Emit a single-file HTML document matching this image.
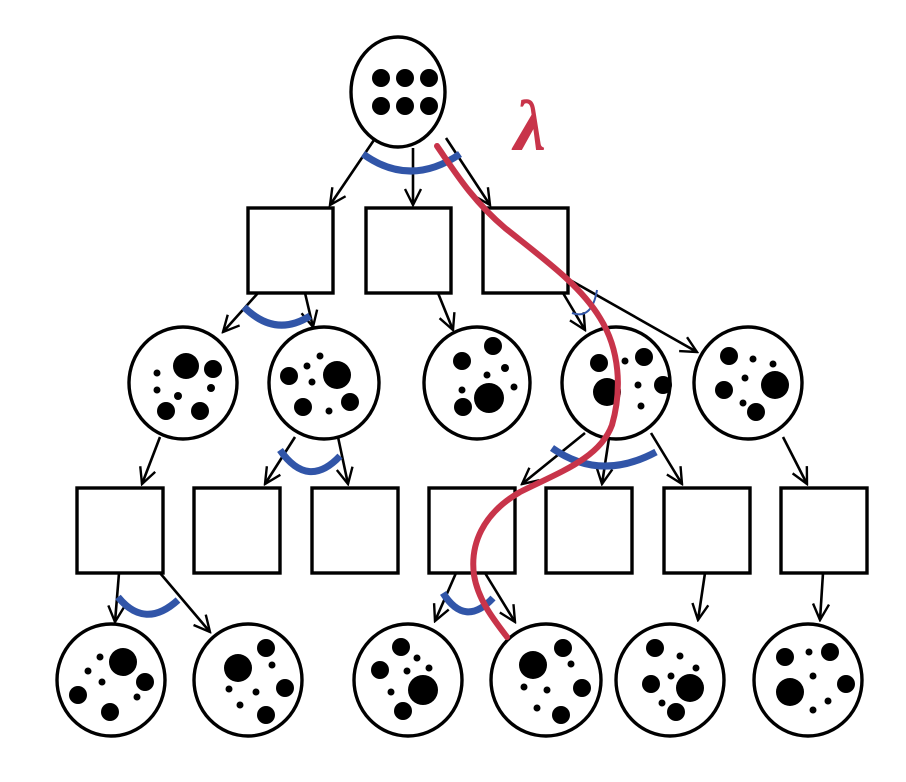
<!DOCTYPE html>
<html><head><meta charset="utf-8"><style>html,body{margin:0;padding:0;background:#fff}svg{display:block}</style></head>
<body>
<svg width="906" height="782" viewBox="0 0 906 782" xmlns="http://www.w3.org/2000/svg">
<defs>
<marker id="b" viewBox="0 0 20 20" refX="18" refY="10" markerWidth="20" markerHeight="20" markerUnits="userSpaceOnUse" orient="auto">
<path d="M2,2 L18,10 L2,18" fill="none" stroke="#000" stroke-width="2.4"/>
</marker>
</defs>
<g fill="none" stroke="#000" stroke-width="3.4">
<rect x="248" y="208" width="85" height="85"/>
<rect x="366" y="208" width="85" height="85"/>
<rect x="483" y="208" width="85" height="85"/>
<rect x="77" y="488" width="86" height="85"/>
<rect x="194" y="488" width="86" height="85"/>
<rect x="312" y="488" width="86" height="85"/>
<rect x="429" y="488" width="86" height="85"/>
<rect x="546" y="488" width="86" height="85"/>
<rect x="664" y="488" width="86" height="85"/>
<rect x="781" y="488" width="86" height="85"/>
<ellipse cx="398" cy="92" rx="47" ry="55"/>
<ellipse cx="183" cy="383" rx="54" ry="56"/>
<ellipse cx="324" cy="383" rx="55" ry="56"/>
<ellipse cx="477" cy="383" rx="53" ry="56"/>
<ellipse cx="616" cy="383" rx="54" ry="56"/>
<ellipse cx="748" cy="383" rx="54" ry="56"/>
<ellipse cx="111" cy="680" rx="54" ry="56"/>
<ellipse cx="248" cy="680" rx="54" ry="56"/>
<ellipse cx="408" cy="680" rx="54" ry="56"/>
<ellipse cx="546" cy="680" rx="55" ry="56"/>
<ellipse cx="670" cy="680" rx="54" ry="56"/>
<ellipse cx="808" cy="680" rx="54" ry="56"/>
</g>
<g stroke="#000" stroke-width="2.6" fill="none" marker-end="url(#b)">
<line x1="374" y1="140" x2="330" y2="205"/>
<line x1="413" y1="148" x2="413" y2="205"/>
<line x1="446" y1="138" x2="490" y2="205"/>
<line x1="258" y1="293" x2="223" y2="332"/>
<line x1="305" y1="293" x2="313" y2="327"/>
<line x1="438" y1="293" x2="453" y2="330"/>
<line x1="563" y1="293" x2="585" y2="330"/>
<line x1="570" y1="280" x2="697" y2="352"/>
<line x1="160" y1="437" x2="142" y2="484"/>
<line x1="295" y1="437" x2="265" y2="484"/>
<line x1="338" y1="437" x2="348" y2="484"/>
<line x1="585" y1="433" x2="522" y2="484"/>
<line x1="609" y1="438" x2="602" y2="484"/>
<line x1="651" y1="433" x2="682" y2="484"/>
<line x1="783" y1="437" x2="807" y2="484"/>
<line x1="119" y1="573" x2="115" y2="622"/>
<line x1="160" y1="573" x2="210" y2="632"/>
<line x1="456" y1="573" x2="435" y2="621"/>
<line x1="485" y1="573" x2="515" y2="622"/>
<line x1="705" y1="573" x2="698" y2="620"/>
<line x1="823" y1="573" x2="820" y2="620"/>
</g>
<g fill="none" stroke="#3155a8" stroke-width="7">
<path d="M363,154 Q410,188 460,154"/>
<path d="M244,307 Q275,338 310,316"/>
<path d="M280,450 Q308,490 340,456"/>
<path d="M552,448 Q600,482 656,452"/>
<path d="M118,597 Q145,630 178,600"/>
<path d="M443,593 Q465,628 493,598"/>
</g>
<path d="M572,313 Q592,320 597,290" fill="none" stroke="#3155a8" stroke-width="2"/>
<g fill="#000">
<circle cx="381" cy="78" r="9"/><circle cx="405" cy="78" r="9"/><circle cx="429" cy="78" r="9"/>
<circle cx="381" cy="106" r="9"/><circle cx="405" cy="106" r="9"/><circle cx="429" cy="106" r="9"/>
<circle cx="186" cy="366" r="13"/><circle cx="213" cy="369" r="9"/><circle cx="157" cy="373" r="3.5"/><circle cx="157" cy="390" r="3.5"/><circle cx="178" cy="396" r="4"/><circle cx="211" cy="388" r="4"/><circle cx="166" cy="411" r="9"/><circle cx="200" cy="411" r="9"/>
<circle cx="337" cy="375" r="14"/><circle cx="289" cy="376" r="9"/><circle cx="320" cy="356" r="3.5"/><circle cx="307" cy="366" r="3.5"/><circle cx="312" cy="382" r="3.5"/><circle cx="303" cy="407" r="9"/><circle cx="350" cy="402" r="9"/><circle cx="329" cy="411" r="3.5"/>
<circle cx="493" cy="346" r="9"/><circle cx="462" cy="361" r="9"/><circle cx="505" cy="368" r="4"/><circle cx="487" cy="375" r="3.5"/><circle cx="462" cy="390" r="3.5"/><circle cx="514" cy="387" r="3.5"/><circle cx="489" cy="398" r="15"/><circle cx="463" cy="407" r="9"/>
<circle cx="599" cy="363" r="9"/><circle cx="625" cy="361" r="3.5"/><circle cx="644" cy="357" r="9"/><circle cx="607" cy="392" r="14"/><circle cx="638" cy="385" r="3.5"/><circle cx="663" cy="385" r="9"/><circle cx="641" cy="406" r="3.5"/>
<circle cx="729" cy="356" r="9"/><circle cx="753" cy="359" r="3.5"/><circle cx="773" cy="364" r="3.5"/><circle cx="745" cy="378" r="3.5"/><circle cx="724" cy="390" r="9"/><circle cx="775" cy="385" r="14"/><circle cx="743" cy="403" r="3.5"/><circle cx="756" cy="412" r="9"/>
<circle cx="123" cy="662" r="14"/><circle cx="100" cy="657" r="3.5"/><circle cx="88" cy="671" r="3.5"/><circle cx="102" cy="682" r="3.5"/><circle cx="145" cy="682" r="9"/><circle cx="137" cy="697" r="3.5"/><circle cx="78" cy="695" r="9"/><circle cx="110" cy="712" r="9"/>
<circle cx="266" cy="648" r="9"/><circle cx="238" cy="668" r="14"/><circle cx="272" cy="665" r="3.5"/><circle cx="285" cy="688" r="9"/><circle cx="229" cy="689" r="3.5"/><circle cx="256" cy="692" r="3.5"/><circle cx="240" cy="705" r="3.5"/><circle cx="266" cy="715" r="9"/>
<circle cx="401" cy="647" r="9"/><circle cx="417" cy="658" r="3.5"/><circle cx="380" cy="670" r="9"/><circle cx="407" cy="671" r="3.5"/><circle cx="429" cy="668" r="3.5"/><circle cx="423" cy="690" r="15"/><circle cx="391" cy="692" r="3.5"/><circle cx="403" cy="711" r="9"/>
<circle cx="563" cy="648" r="9"/><circle cx="533" cy="665" r="14"/><circle cx="571" cy="664" r="3.5"/><circle cx="582" cy="688" r="9"/><circle cx="524" cy="687" r="3.5"/><circle cx="547" cy="690" r="3.5"/><circle cx="537" cy="708" r="3.5"/><circle cx="561" cy="715" r="9"/>
<circle cx="655" cy="648" r="9"/><circle cx="680" cy="656" r="3.5"/><circle cx="696" cy="668" r="3.5"/><circle cx="671" cy="676" r="3.5"/><circle cx="651" cy="684" r="9"/><circle cx="690" cy="688" r="14"/><circle cx="662" cy="703" r="3.5"/><circle cx="676" cy="712" r="9"/>
<circle cx="785" cy="657" r="9"/><circle cx="809" cy="652" r="3.5"/><circle cx="830" cy="652" r="9"/><circle cx="813" cy="676" r="3.5"/><circle cx="846" cy="684" r="9"/><circle cx="790" cy="692" r="14"/><circle cx="828" cy="701" r="3.5"/><circle cx="813" cy="710" r="3.5"/>
</g>
<path d="M437,146 C455,172 472,200 505,228 C545,260 580,285 600,318 C620,350 622,390 612,425 C600,458 560,472 520,492 C482,514 470,545 474,575 C478,600 494,620 507,637" fill="none" stroke="#c8344a" stroke-width="6" stroke-linecap="round"/>
<text x="514" y="150" font-family="Liberation Serif, serif" font-style="italic" font-weight="bold" font-size="72" fill="#c8344a">λ</text>
</svg>
</body></html>
